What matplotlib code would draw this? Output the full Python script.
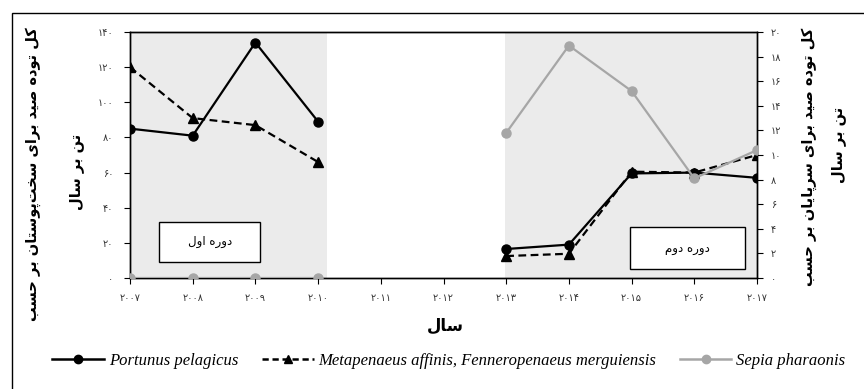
import numpy as np
import matplotlib
matplotlib.use("Agg")
import matplotlib.pyplot as plt
from matplotlib.patches import Rectangle
from matplotlib.lines import Line2D

# ---------------- data ----------------
years = [2007, 2008, 2009, 2010, 2011, 2012, 2013, 2014, 2015, 2016, 2017]
portunus = [85, 81, 134, 89, np.nan, np.nan, 16.5, 19, 59.5, 60, 57]
metapenaeus = [120, 91, 87, 66, np.nan, np.nan, 12.5, 13.8, 60.5, 60, 70]
sepia = [0, 0, 0, 0, np.nan, np.nan, 11.8, 18.9, 15.2, 8.1, 10.4]
left_ticks = [0, 20, 40, 60, 80, 100, 120, 140]
right_ticks = [0, 2, 4, 6, 8, 10, 12, 14, 16, 18, 20]
period1 = (2007, 2010.14)
period2 = (2012.98, 2017)

label_left1 = "کل توده صید برای سخت\u200cپوستان بر حسب"
label_left2 = "تن بر سال"
label_right1 = "کل توده صید برای سرپایان بر حسب"
label_right2 = "تن بر سال"
xlabel_txt = "سال"
box1_txt = "دوره اول"
box2_txt = "دوره دوم"
legend_names = ["Portunus pelagicus",
                "Metapenaeus affinis, Fenneropenaeus merguiensis",
                "Sepia pharaonis"]

# ------------- minimal Persian shaping (matplotlib has no bidi/shaping) -------------
FORMS = {
    'ا': ('\uFE8D', '\uFE8E', None, None),
    'د': ('\uFEA9', '\uFEAA', None, None),
    'ر': ('\uFEAD', '\uFEAE', None, None),
    'و': ('\uFEED', '\uFEEE', None, None),
    'ب': ('\uFE8F', '\uFE90', '\uFE91', '\uFE92'),
    'ت': ('\uFE95', '\uFE96', '\uFE97', '\uFE98'),
    'ح': ('\uFEA1', '\uFEA2', '\uFEA3', '\uFEA4'),
    'خ': ('\uFEA5', '\uFEA6', '\uFEA7', '\uFEA8'),
    'س': ('\uFEB1', '\uFEB2', '\uFEB3', '\uFEB4'),
    'ص': ('\uFEB9', '\uFEBA', '\uFEBB', '\uFEBC'),
    'ل': ('\uFEDD', '\uFEDE', '\uFEDF', '\uFEE0'),
    'م': ('\uFEE1', '\uFEE2', '\uFEE3', '\uFEE4'),
    'ن': ('\uFEE5', '\uFEE6', '\uFEE7', '\uFEE8'),
    'ه': ('\uFEE9', '\uFEEA', '\uFEEB', '\uFEEC'),
    'ی': ('\uFBFC', '\uFBFD', '\uFBFE', '\uFBFF'),
    'ک': ('\uFB8E', '\uFB8F', '\uFB90', '\uFB91'),
    'پ': ('\uFB56', '\uFB57', '\uFB58', '\uFB59'),
}


def fa(s):
    out = []
    for i, c in enumerate(s):
        if c not in FORMS:
            if c != '\u200c':
                out.append(c)
            continue
        prev = s[i - 1] if i > 0 else None
        nxt = s[i + 1] if i + 1 < len(s) else None
        jp = prev in FORMS and FORMS[prev][2] is not None
        iso, fin, ini, med = FORMS[c]
        jn = ini is not None and nxt in FORMS
        if jp and jn:
            out.append(med)
        elif jp:
            out.append(fin)
        elif jn:
            out.append(ini)
        else:
            out.append(iso)
    return ''.join(out)[::-1]


def fa_digits(v):
    return str(int(v)).translate(str.maketrans("0123456789", "۰۱۲۳۴۵۶۷۸۹"))


# ---------------- figure ----------------
fig = plt.figure(figsize=(8.64, 3.89), dpi=100)
ax = fig.add_axes([130 / 864, 1 - 278 / 389, (757 - 130) / 864, (278 - 32) / 389])
ax2 = ax.twinx()

ax.axvspan(*period1, color='#ebebeb', zorder=0, lw=0)
ax.axvspan(*period2, color='#ebebeb', zorder=0, lw=0)

ax.plot(years, portunus, color='black', lw=1.6, marker='o', ms=6.5, zorder=3)
ax.plot(years, metapenaeus, color='black', lw=1.6, ls=(0, (3.5, 2)), marker='^', ms=7.5, zorder=3)
ax2.plot(years, sepia, color='#a6a6a6', lw=1.6, marker='o', ms=6.5, zorder=3)

ax.set_xlim(2007, 2017)
ax.set_ylim(0, 140)
ax2.set_ylim(0, 20)
ax.set_xticks(years)
ax.set_xticklabels([fa_digits(y) for y in years], fontsize=7, color='#333333', family='DejaVu Sans')
ax.set_yticks(left_ticks)
ax.set_yticklabels([fa_digits(v) for v in left_ticks], fontsize=7, color='#333333', family='DejaVu Sans')
ax2.set_yticks(right_ticks)
ax2.set_yticklabels([fa_digits(v) for v in right_ticks], fontsize=7, color='#333333', family='DejaVu Sans')
for a in (ax, ax2):
    a.tick_params(direction='out', length=4, width=0.8, pad=8)
    for s in a.spines.values():
        s.set_linewidth(1.0)
ax.tick_params(axis='x', pad=7)
ax2.tick_params(axis='y', pad=6)

# annotation boxes
ax.add_patch(Rectangle((2007.46, 9.1), 1.61, 22.8, facecolor='white', edgecolor='black', lw=1.0, zorder=4))
ax.text(2008.27, 20.5, fa(box1_txt), ha='center', va='center', fontsize=8.5, zorder=5, family='DejaVu Sans')
ax.add_patch(Rectangle((2014.97, 5.1), 1.84, 23.9, facecolor='white', edgecolor='black', lw=1.0, zorder=4))
ax.text(2015.89, 17.0, fa(box2_txt), ha='center', va='center', fontsize=8.5, zorder=5, family='DejaVu Sans')

# axis labels
fig.text(33 / 864, 1 - 174 / 389, fa(label_left1), rotation=90, ha='center', va='center',
         fontsize=10.5, fontweight='bold', family='DejaVu Sans')
fig.text(77 / 864, 1 - 172 / 389, fa(label_left2), rotation=90, ha='center', va='center',
         fontsize=10.5, fontweight='bold', family='DejaVu Sans')
fig.text(809 / 864, 1 - 157 / 389, fa(label_right1), rotation=90, ha='center', va='center',
         fontsize=10.5, fontweight='bold', family='DejaVu Sans')
fig.text(839 / 864, 1 - 145 / 389, fa(label_right2), rotation=90, ha='center', va='center',
         fontsize=10.5, fontweight='bold', family='DejaVu Sans')
fig.text(445 / 864, 1 - 326 / 389, fa(xlabel_txt), ha='center', va='center',
         fontsize=12, fontweight='bold', family='DejaVu Sans')

# legend
handles = [
    Line2D([], [], color='black', lw=1.8, marker='o', ms=6),
    Line2D([], [], color='black', lw=1.8, ls=(0, (2.5, 1.5)), marker='^', ms=6),
    Line2D([], [], color='#a6a6a6', lw=1.8, marker='o', ms=6),
]
fig.legend(handles, legend_names, loc='center', bbox_to_anchor=(449 / 864, 1 - 361 / 389),
           ncol=3, frameon=False, prop={'family': 'Liberation Serif', 'style': 'italic', 'size': 12},
           handlelength=3.1, columnspacing=1.4, handletextpad=0.3)

# outer border (left, top, bottom visible; right side runs off the image)
fig.add_artist(Rectangle((12 / 864, -0.02), 1.0, 1 - 13 / 389 + 0.02,
                         transform=fig.transFigure, fill=False, edgecolor='black', lw=1.0))

fig.savefig('out.png', dpi=100)
